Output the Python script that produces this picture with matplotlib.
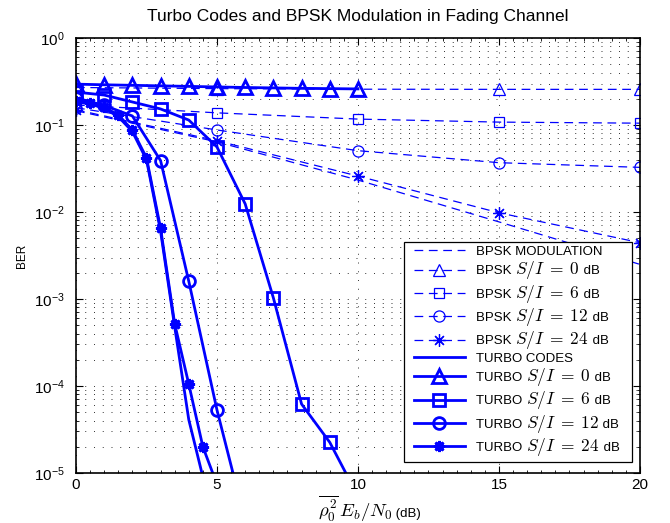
import numpy as np
import matplotlib
matplotlib.use('Agg')
import matplotlib.pyplot as plt
from matplotlib.ticker import LogLocator, MultipleLocator, NullFormatter, FixedLocator
from matplotlib.offsetbox import TextArea, HPacker, AnchoredOffsetbox, DrawingArea

plt.rcParams['font.family'] = ['Liberation Sans', 'DejaVu Sans']
plt.rcParams['mathtext.fontset'] = 'cm'

# ---------------- data ----------------
bpsk_x = [0, 5, 10, 15, 20]
bpsk_mod = [0.146, 0.064, 0.0233, 0.0077, 0.0025]
bpsk_si0 = [0.27, 0.262, 0.258, 0.257, 0.257]
bpsk_si6 = [0.17, 0.138, 0.117, 0.108, 0.105]
bpsk_si12 = [0.158, 0.0877, 0.0507, 0.0369, 0.0326]
bpsk_si24 = [0.150, 0.066, 0.0259, 0.0098, 0.00444]

turbo_x_fine = [0, 0.5, 1, 1.5, 2, 2.5, 3, 3.5, 4, 4.5, 5]
turbo_codes = [0.185, 0.175, 0.155, 0.125, 0.084, 0.040, 6.0e-3, 4.8e-4, 4.1e-5, 9.0e-6, 2.0e-6]
turbo_si24 = [0.19, 0.18, 0.161, 0.130, 0.0877, 0.042, 6.5e-3, 5.2e-4, 1.05e-4, 2.0e-5, 7.4e-6]

turbo_x12 = [0, 1, 2, 3, 4, 5, 6]
turbo_si12 = [0.205, 0.168, 0.127, 0.039, 1.6e-3, 5.3e-5, 2.8e-6]

turbo_x = [0, 1, 2, 3, 4, 5, 6, 7, 8, 9, 10]
turbo_si6 = [0.239, 0.221, 0.184, 0.153, 0.114, 0.0559, 0.0124, 1.03e-3, 6.2e-5, 2.25e-5, 5.4e-6]
turbo_si0 = [0.295, 0.29, 0.286, 0.282, 0.278, 0.274, 0.27, 0.267, 0.264, 0.262, 0.26]

x_ticks = [0, 5, 10, 15, 20]

# legend label parts: (prefix, math, suffix)
legend_parts = [
    ('BPSK MODULATION', None, None),
    ('BPSK ', r'$S/I\;=\;0$', ' dB'),
    ('BPSK ', r'$S/I\;=\;6$', ' dB'),
    ('BPSK ', r'$S/I\;=\;12$', ' dB'),
    ('BPSK ', r'$S/I\;=\;24$', ' dB'),
    ('TURBO CODES', None, None),
    ('TURBO ', r'$S/I\;=\;0$', ' dB'),
    ('TURBO ', r'$S/I\;=\;6$', ' dB'),
    ('TURBO ', r'$S/I\;=\;12$', ' dB'),
    ('TURBO ', r'$S/I\;=\;24$', ' dB'),
]

# ---------------- figure ----------------
fig = plt.figure(figsize=(6.7, 5.23), dpi=100)
ax = fig.add_axes([0.1134, 0.0956, 0.8418, 0.8317])

blue = '#0000ff'
ast = (8, 2, 0)
dash = (7, 4.5)
thin = dict(color=blue, lw=0.9, dashes=dash, mfc='none', mew=0.9)
thick = dict(color=blue, lw=2, mfc='none', mew=2)

ax.plot(bpsk_x, bpsk_mod, color=blue, lw=0.9, dashes=dash, label='l0')
ax.plot(bpsk_x, bpsk_si0, marker='^', ms=8, label='l1', **thin)
ax.plot(bpsk_x, bpsk_si6, marker='s', ms=7, label='l2', **thin)
ax.plot(bpsk_x, bpsk_si12, marker='o', ms=8, label='l3', **thin)
ax.plot(bpsk_x, bpsk_si24, marker=ast, ms=9, label='l4', **thin)

ax.plot(turbo_x_fine, turbo_codes, color=blue, lw=2, label='l5')
ax.plot(turbo_x, turbo_si0, marker='^', ms=9.5, label='l6', **thick)
ax.plot(turbo_x, turbo_si6, marker='s', ms=8, label='l7', **thick)
ax.plot(turbo_x12, turbo_si12, marker='o', ms=8.5, label='l8', **thick)
ax.plot(turbo_x_fine, turbo_si24, marker=ast, ms=8, label='l9', **thick)

ax.set_yscale('log')
ax.set_xlim(0, 20)
ax.set_ylim(1e-5, 1)
ax.xaxis.set_major_locator(FixedLocator(x_ticks))
ax.xaxis.set_minor_locator(MultipleLocator(0.5))
ax.yaxis.set_major_locator(LogLocator(base=10, numticks=10))
ax.yaxis.set_minor_locator(LogLocator(base=10, subs=np.arange(2, 10), numticks=20))
ax.yaxis.set_minor_formatter(NullFormatter())

gstyle = dict(color='#333333', lw=0.7, linestyle=(0, (1, 8)))
ax.grid(True, which='major', axis='both', **gstyle)
ax.grid(True, which='minor', axis='y', **gstyle)

ax.tick_params(which='both', direction='in', top=True, right=True, labelsize=11)
ax.tick_params(axis='y', which='major', pad=8)
ax.tick_params(which='major', length=5, width=0.8)
ax.tick_params(which='minor', length=2.5, width=0.6)
for s in ax.spines.values():
    s.set_linewidth(1.2)

ax.set_title('Turbo Codes and BPSK Modulation in Fading Channel', fontsize=12.5, pad=12)
ax.set_ylabel('BER', fontsize=8.5)

# x label: large math part + small "(dB)"
xl_box = HPacker(children=[
    TextArea(r'$\overline{\rho_0^2}\,E_b/N_0$', textprops=dict(fontsize=13.5)),
    TextArea(' (dB)', textprops=dict(fontsize=9.5)),
], align='baseline', pad=0, sep=0)
xl_anchor = AnchoredOffsetbox(loc='upper center', child=xl_box, pad=0, borderpad=0,
                              frameon=False, bbox_to_anchor=(0.52, -0.046),
                              bbox_transform=ax.transAxes)
ax.add_artist(xl_anchor)

leg = ax.legend(loc='lower right', fontsize=9.5, fancybox=False, framealpha=1, edgecolor='black',
                handlelength=3.9, handletextpad=0.6, labelspacing=0.1, borderpad=0.3,
                bbox_to_anchor=(0.9858, 0.0253), borderaxespad=0)
leg.get_frame().set_linewidth(0.9)

# rebuild legend labels with larger math (as the LaTeX interpreter renders it)
rows = [r for col in leg._legend_handle_box.get_children() for r in col.get_children()]
for row, (pre, math, suf) in zip(rows, legend_parts):
    if math is None:
        new = TextArea(pre, textprops=dict(fontsize=9.5))
    else:
        new = HPacker(children=[
            TextArea(pre, textprops=dict(fontsize=9.5)),
            TextArea(math, textprops=dict(fontsize=12.5)),
            TextArea(suf, textprops=dict(fontsize=9.5)),
        ], align='baseline', pad=0, sep=0)
    new.set_figure(fig)
    row._children[1] = new
    left_pad = DrawingArea(4, 1)
    right_pad = DrawingArea(6, 1)
    left_pad.set_figure(fig)
    right_pad.set_figure(fig)
    row._children.insert(0, left_pad)
    row._children.append(right_pad)
    row.sep = 0
    gap = DrawingArea(8, 1)
    gap.set_figure(fig)
    row._children.insert(2, gap)

fig.savefig('out.png', dpi=100)
